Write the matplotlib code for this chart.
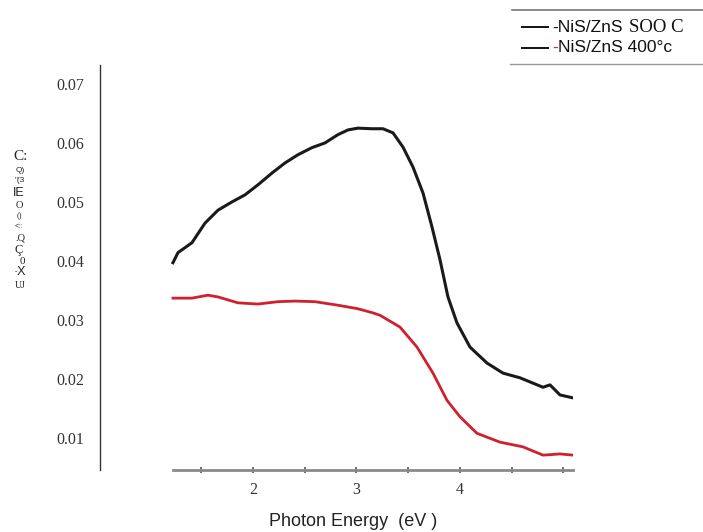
import matplotlib.pyplot as plt
from matplotlib.lines import Line2D
import numpy as np

# photon energy (eV) and extinction coefficient
energy_500 = [1.227, 1.275, 1.411, 1.536, 1.662, 1.797, 1.923, 2.048, 2.184, 2.309,
              2.435, 2.570, 2.696, 2.821, 2.918, 3.014, 3.150, 3.256, 3.353, 3.449,
              3.546, 3.643, 3.729, 3.807, 3.884, 3.971, 4.097, 4.261, 4.415, 4.580,
              4.802, 4.870, 4.966, 5.092]
k_500 = [0.0397, 0.0414, 0.0431, 0.0464, 0.0486, 0.0500, 0.0512, 0.0529, 0.0549, 0.0566,
         0.0580, 0.0592, 0.0600, 0.0614, 0.0622, 0.0625, 0.0624, 0.0624, 0.0617, 0.0593,
         0.0559, 0.0515, 0.0458, 0.0402, 0.0339, 0.0295, 0.0254, 0.0227, 0.0210, 0.0202,
         0.0186, 0.0190, 0.0173, 0.0168]

energy_400 = [1.227, 1.411, 1.565, 1.662, 1.855, 2.048, 2.242, 2.406, 2.599, 2.821,
              3.014, 3.159, 3.227, 3.420, 3.585, 3.739, 3.874, 4.000, 4.164, 4.386,
              4.609, 4.802, 4.966, 5.092]
k_400 = [0.0337, 0.0337, 0.0342, 0.0339, 0.0329, 0.0327, 0.0331, 0.0332, 0.0331, 0.0325,
         0.0319, 0.0312, 0.0308, 0.0288, 0.0254, 0.0210, 0.0164, 0.0136, 0.0108, 0.0093,
         0.0085, 0.0071, 0.0073, 0.0071]

y_ticks = [0.01, 0.02, 0.03, 0.04, 0.05, 0.06, 0.07]
x_ticks = [1.5, 2, 2.5, 3, 3.5, 4, 4.5, 5]
x_ticklabels = ["", "2", "", "3", "", "4", "", ""]

W, H = 703, 532
fig = plt.figure(figsize=(W / 100, H / 100), dpi=100)
ax = fig.add_axes([100 / W, 1 - 470 / H, 473 / W, 405 / H])

ax.plot(energy_500, k_500, color="#1a1a1a", lw=2.2)
ax.plot(energy_400, k_400, color="#d0202e", lw=2.0)

ax.set_xlim(0.522, 5.092)
ax.set_ylim(0.00458, 0.0732)

for s in ["top", "right"]:
    ax.spines[s].set_visible(False)
ax.spines["left"].set_color("#333333")
ax.spines["left"].set_linewidth(1.0)
ax.spines["bottom"].set_color("#8a8a8a")
ax.spines["bottom"].set_linewidth(2.0)
ax.spines["bottom"].set_bounds(1.227, 5.092)

ax.set_yticks(y_ticks)
ax.set_yticklabels([f"{v:.2f}" for v in y_ticks], family="Liberation Serif",
                   fontsize=11.5, color="#333333")
ax.tick_params(axis="y", length=0, pad=11.5)
ax.set_xticks(x_ticks)
ax.set_xticklabels(x_ticklabels, family="Liberation Serif", fontsize=11.5,
                   color="#333333")
ax.tick_params(axis="x", direction="inout", length=5, width=1.2,
               color="#555555", pad=6)

fig.text(353 / W, 1 - 521 / H, "Photon Energy  (eV )", ha="center", va="center",
         family="Liberation Sans", fontsize=13, color="#222222")

# garbled vertical y label, stacked as in the picture
ylabel_bits = [("C:", 21, 157, 11, "Liberation Serif"),
               ("Q)", 20, 170, 6, "Liberation Sans"),
               ("\"(3", 20, 181, 6, "Liberation Sans"),
               ("IE", 19, 193, 9, "Liberation Sans"),
               ("O", 19, 205, 7.5, "Liberation Serif"),
               ("()", 19, 216, 6, "Liberation Serif"),
               ("<::", 19, 226, 5, "Liberation Sans"),
               (".Q", 20, 238, 7.5, "Liberation Serif"),
               ("Ç", 19, 250, 9, "Liberation Serif"),
               ("0", 22, 261, 8, "Liberation Serif"),
               ("·X", 20, 272, 9, "Liberation Sans"),
               ("UJ", 20, 285, 7, "Liberation Serif")]
for txt, px, py, fs, fam in ylabel_bits:
    fig.text(px / W, 1 - py / H, txt, ha="center", va="center", fontsize=fs,
             family=fam, color="#222222")

# legend box: only top and bottom rules
fig.add_artist(Line2D([512 / W, 1.0], [1 - 10 / H, 1 - 10 / H], color="#777777", lw=1.2))
fig.add_artist(Line2D([510 / W, 1.0], [1 - 64 / H, 1 - 64 / H], color="#999999", lw=1.0))
for py in (27, 48):
    fig.add_artist(Line2D([522 / W, 548 / W], [1 - py / H, 1 - py / H],
                          color="#111111", lw=1.4))
fig.text(552 / W, 1 - 27 / H, "-NiS/ZnS", ha="left", va="center", fontsize=12.5,
         family="Liberation Sans", color="#111111")
fig.text(629 / W, 1 - 27 / H, "SOO C", ha="left", va="center", fontsize=13.5,
         family="Liberation Serif", color="#111111")
fig.text(552 / W, 1 - 48 / H, "-", ha="left", va="center", fontsize=12.5,
         family="Liberation Sans", color="#d0202e")
fig.text(558 / W, 1 - 48 / H, "NiS/ZnS 400°c", ha="left", va="center", fontsize=12.5,
         family="Liberation Sans", color="#111111")

fig.savefig("out.png", dpi=100)
